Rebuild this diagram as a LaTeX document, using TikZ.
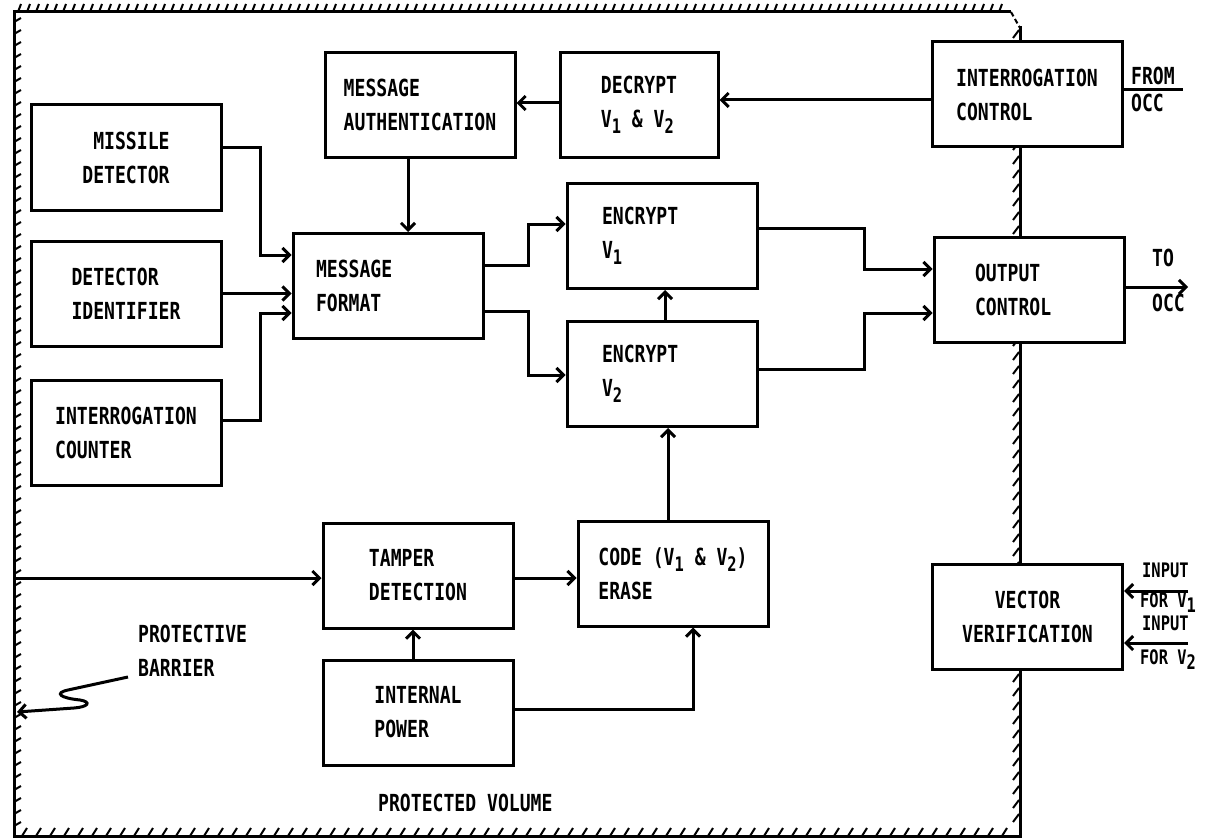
\documentclass[tikz,border=0pt]{standalone}
\usepackage{fontspec}
\usepackage{tikz}
\usetikzlibrary{arrows.meta, positioning}
\newfontfamily\typer[FakeStretch=0.77]{DejaVu Sans Mono}
\newcommand{\vsub}[1]{\raisebox{-0.5ex}{\fontsize{20}{20}\selectfont #1}}

\begin{document}
\begin{tikzpicture}[x=1pt, y=-1pt,
        blk/.style={rectangle, draw=black, line width=3pt, fill=white, minimum width=190pt, minimum height=105pt, align=left, inner sep=0pt},
        lbl/.style={inner sep=0pt, anchor=base west},
        small/.style={font=\typer\bfseries\fontsize{20}{24}\selectfont},
        wire/.style={line width=3pt},
        arrow/.style={-{Straight Barb[length=7pt, width=14pt]}, line width=3pt},
        hatch/.style={line width=2pt},
        every node/.style={font=\typer\bfseries\fontsize{23.5}{34}\selectfont}
    ]
    \useasboundingbox (0,0) rectangle (1208,840);

    % Protective barrier
    \draw[wire] (1011,12) -- (14,12) -- (14,836) -- (1020,836) -- (1020,26);
    \draw[hatch, dash pattern=on 5pt off 3pt] (1011,12) -- (1020,28);
    \foreach \x in {18,27,...,1005} \draw[hatch] (\x,12) -- (\x+3,4);
    \foreach \y in {22,34,...,830} \draw[hatch] (14,\y) -- (21,\y-4);
    \foreach \x in {22,36,...,1010} \draw[hatch] (\x,836) -- (\x+5,828);
    \foreach \y in {34,48,...,830} \draw[hatch] (1013,\y+4) -- (1019,\y-4);

    % Inputs
    \node (missile) [blk, align=right] at (126,157.5) {MISSILE\\DETECTOR};
    \node (detid) [blk, below=28pt of missile] {DETECTOR\\IDENTIFIER};
    \node (intcnt) [blk, below=31pt of detid] {INTERROGATION\\COUNTER};

    % Message path
    \node (msgfmt) [blk, text width=144pt] at (388,286) {MESSAGE\\FORMAT};
    \node (msgauth) [blk] at (420,105) {MESSAGE\\AUTHENTICATION};
    \node (decrypt) [blk, minimum width=158pt] at (639,105) {DECRYPT\\V\vsub{1} \& V\vsub{2}};
    \node (intctl) [blk] at (1027,94.5) {INTERROGATION\\CONTROL};

    % Encryption
    \node (encv1) [blk, text width=120pt] at (662,236) {ENCRYPT\\V\vsub{1}};
    \node (encv2) [blk, text width=120pt, below=30pt of encv1] {ENCRYPT\\V\vsub{2}};
    \node (outctl) [blk, text width=108pt] at (1029,290) {OUTPUT\\CONTROL};

    % Tamper chain
    \node (tamper) [blk] at (418,575.5) {TAMPER\\DETECTION};
    \node (power) [blk, below=29pt of tamper] {INTERNAL\\POWER};
    \node (erase) [blk] at (673,573.5) {CODE (V\vsub{1} \& V\vsub{2})\\ERASE};
    \node (vecver) [blk, align=center] at (1027.5,617) {VECTOR\\VERIFICATION};

    % Labels
    \node (fromlbl) [lbl] at (1131,85) {FROM};
    \node (occin) [lbl] at (1131,112) {OCC};
    \node (tolbl) [lbl] at (1152,266) {TO};
    \node (occout) [lbl] at (1152,311) {OCC};
    \node (inlbla) [lbl, small] at (1142,577) {INPUT};
    \node (forlbla) [lbl, small] at (1140,607) {FOR V\vsub{1}};
    \node (inlblb) [lbl, small] at (1142,630) {INPUT};
    \node (forlblb) [lbl, small] at (1140,664) {FOR V\vsub{2}};
    \node (barlbl) [lbl, align=left] at (138,676) {PROTECTIVE\\BARRIER};
    \node (vollbl) [lbl] at (378,811) {PROTECTED VOLUME};

    \coordinate (fromocc) at (1183,90);
    \coordinate (toocc) at (1188,287);
    \coordinate (tin) at (14,578);
    \coordinate (vina) at (1188,591);
    \coordinate (vinb) at (1188,643);
    \coordinate (sq) at (128,677);
    \coordinate (bar) at (17,712);

    % Edges
    \draw[arrow] (missile.east |- 0,148) -- ++(38,0) |- (msgfmt.west |- 0,255);
    \draw[arrow] (detid.east) -- (detid.east -| msgfmt.west);
    \draw[arrow] (intcnt.east |- 0,420) -- ++(38,0) |- (msgfmt.west |- 0,313);
    \draw[arrow] (msgauth.south -| 408,0) -- (msgfmt.north -| 408,0);
    \draw[arrow] (decrypt.west |- 0,103) -- (msgauth.east |- 0,103);
    \draw[arrow] (intctl.west |- 0,100) -- (decrypt.east |- 0,100);
    \draw[wire] (intctl.east |- fromocc) -- (fromocc);

    \draw[arrow] (msgfmt.east |- 0,265) -- ++(44,0) |- (encv1.west |- 0,224);
    \draw[arrow] (msgfmt.east |- 0,311) -- ++(44,0) |- (encv2.west |- 0,375);
    \draw[arrow] (encv2.north -| 665,0) -- (encv1.south -| 665,0);
    \draw[arrow] (encv1.east |- 0,228) -- ++(106,0) |- (outctl.west |- 0,269);
    \draw[arrow] (encv2.east |- 0,369) -- ++(106,0) |- (outctl.west |- 0,313);
    \draw[arrow] (outctl.east |- toocc) -- (toocc);

    \draw[arrow] (erase.north -| 668,0) -- (encv2.south -| 668,0);
    \draw[arrow] (tin) -- (tin -| tamper.west);
    \draw[arrow] (tamper.east |- 0,578) -- (erase.west |- 0,578);
    \draw[arrow] (power.north -| 413,0) -- (tamper.south -| 413,0);
    \draw[arrow] (power.east |- 0,709) -| (erase.south -| 693,0);

    \draw[arrow] (vina) -- (vina -| vecver.east);
    \draw[arrow] (vinb) -- (vinb -| vecver.east);

    \draw[arrow] (sq) -- (68,690) .. controls (54,693) and (60,698) .. (80,700) .. controls (92,702) and (88,707) .. (74,708) -- (bar);

\end{tikzpicture}
\end{document}
